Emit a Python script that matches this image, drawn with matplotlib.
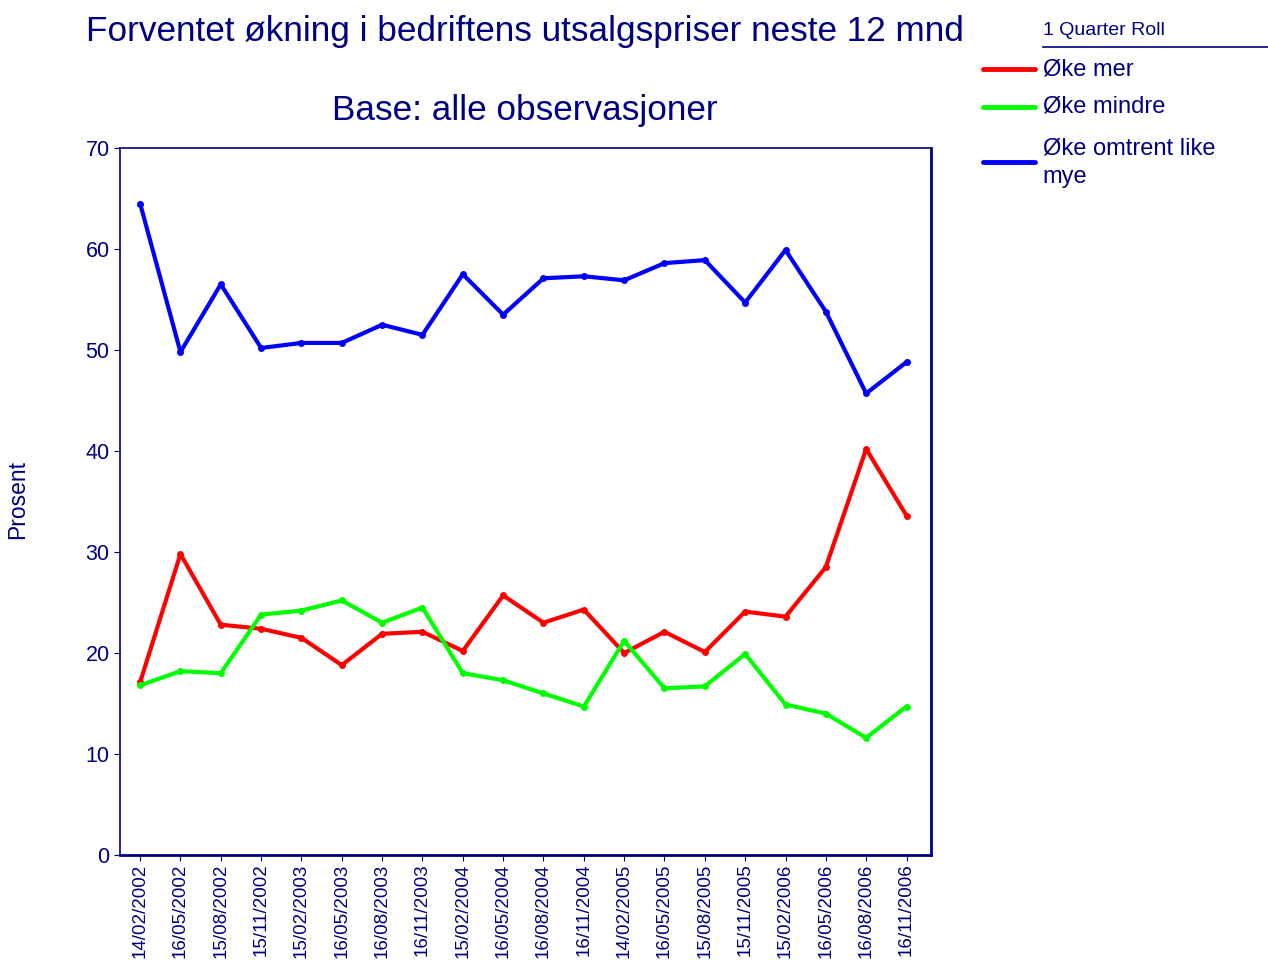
import matplotlib.pyplot as plt
from matplotlib.lines import Line2D
import numpy as np

plt.rcParams['font.family'] = ['Liberation Sans', 'DejaVu Sans']

dates = ["14/02/2002", "16/05/2002", "15/08/2002", "15/11/2002", "15/02/2003",
         "16/05/2003", "16/08/2003", "16/11/2003", "15/02/2004", "16/05/2004",
         "16/08/2004", "16/11/2004", "14/02/2005", "16/05/2005", "15/08/2005",
         "15/11/2005", "15/02/2006", "16/05/2006", "16/08/2006", "16/11/2006"]

oke_mer = [17.1, 29.8, 22.8, 22.4, 21.5, 18.8, 21.9, 22.1, 20.2, 25.7,
           23.0, 24.3, 20.0, 22.1, 20.1, 24.1, 23.6, 28.5, 40.2, 33.6]
oke_mindre = [16.8, 18.2, 18.0, 23.8, 24.2, 25.2, 23.0, 24.5, 18.0, 17.3,
              16.0, 14.7, 21.2, 16.5, 16.7, 19.9, 14.9, 14.0, 11.6, 14.7]
oke_likt = [64.5, 49.8, 56.5, 50.2, 50.7, 50.7, 52.5, 51.5, 57.5, 53.5,
            57.1, 57.3, 56.9, 58.6, 58.9, 54.7, 59.9, 53.8, 45.7, 48.8]

navy = '#000080'
colors = ['#FF0000', '#00FF00', '#0000FF']
labels = ["Øke mer", "Øke mindre", "Øke omtrent like\nmye"]

fig = plt.figure(figsize=(12.68, 9.61), dpi=100)
ax = fig.add_axes([0.0946, 0.1103, 0.6394, 0.7357])

x = np.arange(len(dates))
for series, c in zip([oke_mer, oke_mindre, oke_likt], colors):
    ax.plot(x, series, color=c, lw=3, marker='o', ms=4, zorder=3)

ax.set_xlim(-0.5, 19.6)
ax.set_ylim(0, 70)
ax.set_yticks(range(0, 71, 10))
ax.set_xticks(x)
ax.set_xticklabels(dates, rotation=90, fontsize=13.5, color=navy)
ax.tick_params(axis='y', labelsize=15.5, labelcolor=navy, color=navy, length=4, direction='out')
ax.tick_params(axis='x', color=navy, length=4, direction='out', pad=2)
for s in ax.spines.values():
    s.set_color(navy)
    s.set_linewidth(1.2)
ax.spines['right'].set_linewidth(2)
ax.spines['bottom'].set_linewidth(2)

fig.text(0.014, 0.48, "Prosent", rotation=90, fontsize=16.5, color=navy, ha='center', va='center')
fig.text(0.414, 0.967, "Forventet økning i bedriftens utsalgspriser neste 12 mnd",
         fontsize=25.3, color=navy, ha='center', va='center')
fig.text(0.414, 0.885, "Base: alle observasjoner", fontsize=25.3, color=navy, ha='center', va='center')

# legend
fig.text(0.8225, 0.968, "1 Quarter Roll", fontsize=14, color=navy, ha='left', va='center')
fig.add_artist(Line2D([0.8225, 1.0], [0.951, 0.951], color=navy, lw=1.2))
legend_y = [0.928, 0.889, 0.831]
for lab, c, yy in zip(labels, colors, legend_y):
    fig.add_artist(Line2D([0.775, 0.816], [yy, yy], color=c, lw=3.5, solid_capstyle='round'))
    fig.text(0.8225, yy, lab, fontsize=17, color=navy, ha='left', va='center', linespacing=1.4)

fig.savefig("out.png", dpi=100)
